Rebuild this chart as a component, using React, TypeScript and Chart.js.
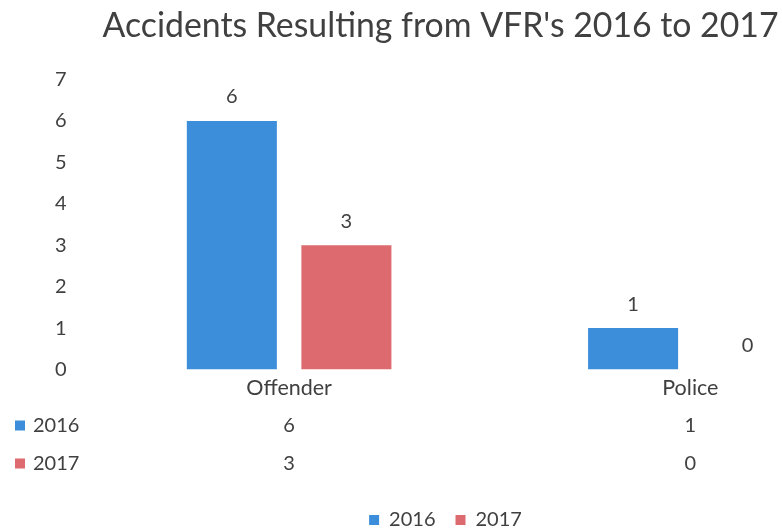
import React, { useEffect, useRef } from "react";
import { Chart, registerables } from "chart.js";

Chart.register(...registerables);

const titleText = "Accidents Resulting from VFR's 2016 to 2017";
const categories = ["Offender", "Police"];
const seriesNames = ["2016", "2017"];
const values2016 = [6, 1];
const values2017 = [3, 0];
const seriesColors = ["#3C8DDA", "#DD6A6E"];
const yTicks = [0, 1, 2, 3, 4, 5, 6, 7];

const FONT = "Lato, 'Open Sans', sans-serif";
const TEXT = "#404040";

const titlePlugin = {
  id: "customTitle",
  afterDraw(chart: any) {
    const ctx = chart.ctx;
    ctx.save();
    ctx.font = `33.8px ${FONT}`;
    ctx.fillStyle = TEXT;
    ctx.textAlign = "center";
    ctx.textBaseline = "alphabetic";
    ctx.fillText(titleText, 440.5, 37);
    ctx.restore();
  },
};

const valueLabels = {
  id: "valueLabels",
  afterDatasetsDraw(chart: any) {
    const ctx = chart.ctx;
    ctx.save();
    ctx.font = `20px ${FONT}`;
    ctx.fillStyle = TEXT;
    ctx.textAlign = "center";
    ctx.textBaseline = "middle";
    chart.data.datasets.forEach((ds: any, i: number) => {
      const meta = chart.getDatasetMeta(i);
      meta.data.forEach((bar: any, j: number) => {
        ctx.fillText(String(ds.data[j]), bar.x, bar.y - 24);
      });
    });
    ctx.restore();
  },
};

const dataTable = {
  id: "dataTable",
  afterDraw(chart: any) {
    const ctx = chart.ctx;
    const xs = chart.scales.x;
    const base = chart.chartArea.bottom;
    ctx.save();
    ctx.font = `20px ${FONT}`;
    ctx.textBaseline = "middle";
    chart.data.datasets.forEach((ds: any, i: number) => {
      const y = base + 56 + i * 38;
      ctx.fillStyle = ds.backgroundColor;
      ctx.fillRect(15, y - 5, 10, 10);
      ctx.fillStyle = TEXT;
      ctx.textAlign = "left";
      ctx.fillText(ds.label, 33, y);
      ctx.textAlign = "center";
      ds.data.forEach((v: number, j: number) => {
        ctx.fillText(String(v), xs.getPixelForValue(j), y);
      });
    });
    ctx.restore();
  },
};

export default function App() {
  const ref = useRef<HTMLCanvasElement>(null);
  useEffect(() => {
    if (!ref.current) return;
    const chart = new Chart(ref.current, {
      type: "bar",
      data: {
        labels: categories,
        datasets: [
          { label: seriesNames[0], data: values2016, backgroundColor: seriesColors[0] },
          { label: seriesNames[1], data: values2017, backgroundColor: seriesColors[1] },
        ],
      },
      options: {
        animation: false,
        responsive: false,
        devicePixelRatio: 1,
        layout: { padding: { left: 0, right: 18, top: 79.5, bottom: 0 } },
        datasets: { bar: { categoryPercentage: 0.571, barPercentage: 0.786 } },
        plugins: {
          title: { display: false },
          legend: {
            position: "bottom",
            labels: {
              color: TEXT,
              font: { family: FONT, size: 20 },
              boxWidth: 10,
              boxHeight: 10,
              padding: 20,
            },
          },
          tooltip: { enabled: false },
        },
        scales: {
          x: {
            grid: { display: false, drawTicks: false },
            border: { display: false },
            ticks: { color: TEXT, font: { family: FONT, size: 21.5 }, padding: 6 },
            afterFit(scale: any) {
              scale.height = 120.5;
            },
          },
          y: {
            min: 0,
            max: 7,
            grid: { display: false, drawTicks: false },
            border: { display: false },
            afterBuildTicks(scale: any) {
              scale.ticks = yTicks.map((v) => ({ value: v }));
            },
            ticks: { color: TEXT, font: { family: FONT, size: 20 }, padding: 22 },
            afterFit(scale: any) {
              scale.width = 88.5;
            },
          },
        },
      },
      plugins: [titlePlugin, valueLabels, dataTable],
    });
    return () => chart.destroy();
  }, []);
  return (
    <div style={{ position: "fixed", left: 0, top: 0, width: 782, height: 530, overflow: "hidden", background: "#fff" }}>
      <canvas ref={ref} width={909} height={540} style={{ display: "block" }} />
    </div>
  );
}
